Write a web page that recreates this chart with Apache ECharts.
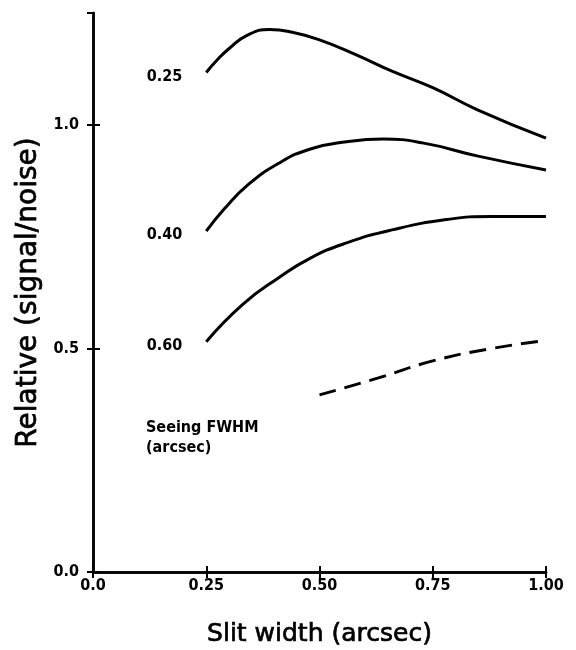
<!DOCTYPE html>
<html>
<head>
<meta charset="utf-8">
<script src="https://cdn.jsdelivr.net/npm/echarts@6/dist/echarts.min.js"></script>
<style>
html,body{margin:0;padding:0;background:#fff;}
#chart{width:576px;height:650px;}
</style>
</head>
<body>
<div id="chart"></div>
<script>
// Data: slit width (arcsec) vs relative S/N
var seeingLabels = ['0.25', '0.40', '0.60'];
var curve025 = [[0.25,1.117],[0.275,1.146],[0.30,1.170],[0.34,1.200],[0.39,1.213],[0.44,1.207],[0.50,1.190],[0.58,1.157],[0.66,1.120],[0.75,1.083],[0.85,1.033],[1.00,0.970]];
var curve040 = [[0.25,0.762],[0.29,0.812],[0.34,0.864],[0.41,0.914],[0.48,0.946],[0.56,0.962],[0.64,0.968],[0.73,0.959],[0.85,0.930],[1.00,0.899]];
var curve060 = [[0.25,0.515],[0.33,0.598],[0.41,0.658],[0.48,0.702],[0.56,0.736],[0.66,0.765],[0.78,0.788],[0.88,0.795],[1.00,0.795]];
var curveDashed = [[0.50,0.396],[0.63,0.434],[0.75,0.472],[0.87,0.498],[1.00,0.518]];
var xTickLabels = {0:'0.0', 0.25:'0.25', 0.5:'0.50', 0.75:'0.75', 1:'1.00'};
var yTickLabels = {0:'0.0', 0.5:'0.5', 1:'1.0'};

var FONT = '"DejaVu Sans Condensed", "DejaVu Sans"';
var chart = echarts.init(document.getElementById('chart'));

function solidSeries(data, lbl) {
  return {
    type: 'line', data: data, smooth: 0.5,
    symbol: 'circle', symbolSize: 0.1, showSymbol: true,
    itemStyle: {color: '#000'},
    lineStyle: {color: '#000', width: 3},
    label: {
      show: true, position: 'left', distance: 24, offset: [0, 4],
      color: '#000', fontFamily: FONT, fontSize: 16, fontWeight: 'bold',
      formatter: function (p) { return p.dataIndex === 0 ? lbl : ''; }
    },
    silent: true, animation: false
  };
}

var axisLineStyle = {color: '#000', width: 2.5};
function titleStyle(size) {
  return {fontFamily: 'DejaVu Sans', fontSize: size, fontWeight: 'normal', color: '#000',
    textBorderColor: '#000', textBorderWidth: 0.7};
}

chart.setOption({
  animation: false,
  backgroundColor: '#fff',
  grid: {left: 93, right: 30, top: 13, bottom: 78, outerBoundsMode: 'none', containLabel: false},
  xAxis: [{
    type: 'value', min: 0, max: 1, interval: 0.25, position: 'bottom',
    name: 'Slit width (arcsec)', nameLocation: 'middle', nameGap: 50,
    nameTextStyle: titleStyle(25),
    axisLine: {show: true, lineStyle: axisLineStyle},
    axisTick: {show: true, inside: true, length: 6, lineStyle: {color: '#000', width: 2}},
    axisLabel: {color: '#000', fontFamily: FONT, fontSize: 16, fontWeight: 'bold', margin: 6,
      formatter: function (v) { return xTickLabels[v] !== undefined ? xTickLabels[v] : ''; }},
    splitLine: {show: false}
  }, {
    type: 'value', min: 0, max: 1, interval: 0.25, position: 'top',
    axisLine: {show: true, lineStyle: axisLineStyle},
    axisTick: {show: true, inside: true, length: 6, lineStyle: {color: '#000', width: 2}},
    axisLabel: {show: false}, splitLine: {show: false}
  }],
  yAxis: [{
    type: 'value', min: 0, max: 1.25, interval: 0.5, position: 'left',
    name: 'Relative (signal/noise)', nameLocation: 'middle', nameGap: 49,
    nameTextStyle: titleStyle(28),
    axisLine: {show: true, lineStyle: axisLineStyle},
    axisTick: {show: true, inside: true, length: 7, lineStyle: {color: '#000', width: 2}},
    axisLabel: {color: '#000', fontFamily: FONT, fontSize: 16, fontWeight: 'bold', margin: 14,
      showMaxLabel: false,
      formatter: function (v) { return yTickLabels[v] !== undefined ? yTickLabels[v] : ''; }},
    splitLine: {show: false}
  }, {
    type: 'value', min: 0, max: 1.25, interval: 0.5, position: 'right',
    axisLine: {show: true, lineStyle: axisLineStyle},
    axisTick: {show: true, inside: true, length: 6, lineStyle: {color: '#000', width: 2}},
    axisLabel: {show: false}, splitLine: {show: false}
  }],
  graphic: [{
    type: 'text', left: 146, top: 418,
    style: {text: 'Seeing FWHM\n(arcsec)', fill: '#000', font: 'bold 16px "DejaVu Sans Condensed", "DejaVu Sans"', lineHeight: 20}
  }],
  series: [
    solidSeries(curve025, seeingLabels[0]),
    solidSeries(curve040, seeingLabels[1]),
    solidSeries(curve060, seeingLabels[2]),
    {
      type: 'line', data: curveDashed, smooth: 0.5,
      symbol: 'none', lineStyle: {color: '#000', width: 3, type: [17, 9]},
      silent: true, animation: false
    }
  ]
});
</script>
</body>
</html>
